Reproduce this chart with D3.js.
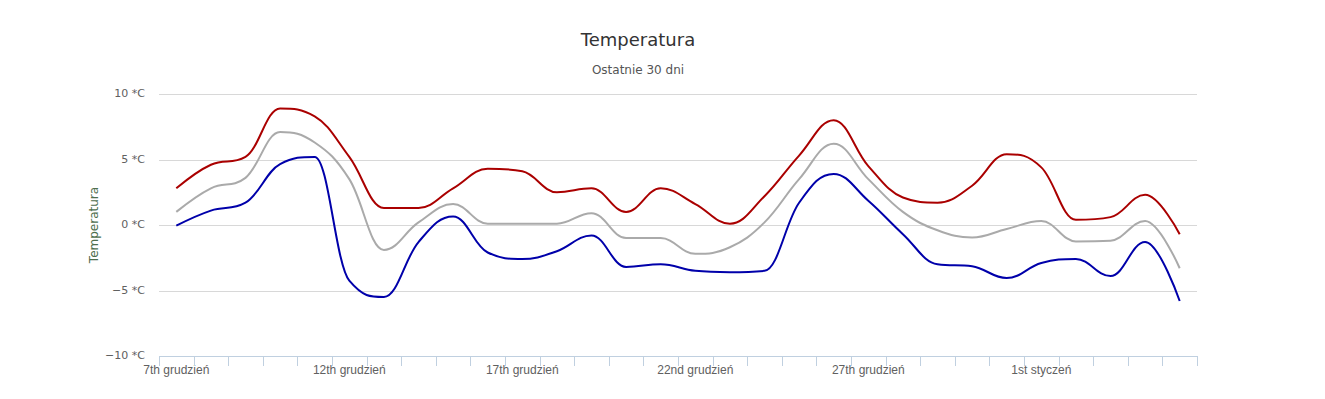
<!DOCTYPE html>
<html>
<head>
<meta charset="utf-8">
<script src="https://cdn.jsdelivr.net/npm/d3@7"></script>
<style>
  body { margin: 0; background: #fff; }
  svg { font-family: "DejaVu Sans", Verdana, sans-serif; }
  .axis text { fill: #606060; font-size: 11px; }
  .xaxis text { font-size: 12px; }
</style>
</head>
<body>
<div id="chart"></div>
<script>
// 30 days, one point per day
var days = [
  "7th grudzień", "8th grudzień", "9th grudzień", "10th grudzień", "11th grudzień",
  "12th grudzień", "13th grudzień", "14th grudzień", "15th grudzień", "16th grudzień",
  "17th grudzień", "18th grudzień", "19th grudzień", "20th grudzień", "21st grudzień",
  "22nd grudzień", "23rd grudzień", "24th grudzień", "25th grudzień", "26th grudzień",
  "27th grudzień", "28th grudzień", "29th grudzień", "30th grudzień", "31st grudzień",
  "1st styczeń", "2nd styczeń", "3rd styczeń", "4th styczeń", "5th styczeń"
];
var tempMax = [2.8, 4.6, 5.2, 8.9, 8.3, 5.2, 1.3, 1.3, 2.8, 4.3, 4.1, 2.5, 2.8, 1.0, 2.8,
  1.6, 0.1, 2.2, 5.3, 8.0, 4.5, 2.1, 1.7, 3.0, 5.4, 4.4, 0.4, 0.6, 2.3, -0.7];
var tempAvg = [1.0, 2.8, 3.6, 7.1, 6.3, 3.5, -1.9, 0.2, 1.6, 0.1, 0.1, 0.1, 0.9, -1.0, -1.0,
  -2.2, -1.7, 0.2, 3.5, 6.2, 3.5, 1.0, -0.4, -0.95, -0.3, 0.3, -1.25, -1.2, 0.3, -3.3];
var tempMin = [-0.05, 1.1, 1.7, 4.65, 5.2, -4.25, -5.5, -1.3, 0.65, -2.1, -2.6, -2.0, -0.8, -3.2, -3.0,
  -3.5, -3.6, -3.5, 1.7, 3.9, 1.85, -0.7, -3.0, -3.15, -4.05, -2.9, -2.6, -3.9, -1.3, -5.8];
var yTicks = [-10, -5, 0, 5, 10];

var width = 1325, height = 399;
var margin = {top: 94, right: 128, bottom: 43, left: 159};

// spline like the one the original chart library draws
function curveSpline(context) {
  var pts;
  return {
    areaStart: function() {}, areaEnd: function() {},
    lineStart: function() { pts = []; },
    point: function(x, y) { pts.push([x, y]); },
    lineEnd: function() {
      var n = pts.length, sm = 1.5, den = sm + 1;
      context.moveTo(pts[0][0], pts[0][1]);
      var prevR = pts[0];
      for (var i = 1; i < n; i++) {
        var p = pts[i], last = pts[i - 1], next = pts[i + 1];
        var lc = p, rc = null;
        if (next) {
          var lx = (sm * p[0] + last[0]) / den, ly = (sm * p[1] + last[1]) / den;
          var rx = (sm * p[0] + next[0]) / den, ry = (sm * p[1] + next[1]) / den;
          var corr = (ry - ly) * (rx - p[0]) / (rx - lx) + p[1] - ry;
          ly += corr; ry += corr;
          if (ly > last[1] && ly > p[1]) { ly = Math.max(last[1], p[1]); ry = 2 * p[1] - ly; }
          else if (ly < last[1] && ly < p[1]) { ly = Math.min(last[1], p[1]); ry = 2 * p[1] - ly; }
          if (ry > next[1] && ry > p[1]) { ry = Math.max(next[1], p[1]); ly = 2 * p[1] - ry; }
          else if (ry < next[1] && ry < p[1]) { ry = Math.min(next[1], p[1]); ly = 2 * p[1] - ry; }
          lc = [lx, ly]; rc = [rx, ry];
        }
        context.bezierCurveTo(prevR[0], prevR[1], lc[0], lc[1], p[0], p[1]);
        prevR = rc;
      }
    }
  };
}

var svg = d3.select('#chart').append('svg')
  .attr('width', width)
  .attr('height', height);

var x = d3.scaleBand()
  .domain(days)
  .range([margin.left, width - margin.right])
  .paddingInner(0).paddingOuter(0);

var y = d3.scaleLinear()
  .domain([-10, 10])
  .range([height - margin.bottom, margin.top]);

// title
svg.append('text')
  .attr('x', 638).attr('y', 46)
  .attr('text-anchor', 'middle')
  .style('font-size', '18px').style('fill', '#333333')
  .text('Temperatura');
svg.append('text')
  .attr('x', 638).attr('y', 74)
  .attr('text-anchor', 'middle')
  .style('font-size', '12px').style('fill', '#555555')
  .text('Ostatnie 30 dni');

// grid lines + y labels
var gy = svg.append('g').attr('class', 'axis');
gy.selectAll('line').data(yTicks).enter().append('line')
  .attr('x1', margin.left).attr('x2', width - margin.right)
  .attr('y1', function(d) { return Math.round(y(d)) + 0.5; })
  .attr('y2', function(d) { return Math.round(y(d)) + 0.5; })
  .attr('stroke', '#d8d8d8').attr('stroke-width', 1);
gy.selectAll('text').data(yTicks).enter().append('text')
  .attr('x', margin.left - 14)
  .attr('y', function(d) { return y(d) + 3; })
  .attr('text-anchor', 'end')
  .text(function(d) { return (d < 0 ? '\u2212' + (-d) : d) + ' *C'; });

// y axis title
svg.append('text')
  .attr('transform', 'translate(98,' + y(0) + ') rotate(-90)')
  .attr('text-anchor', 'middle')
  .style('font-size', '12px').style('fill', '#4d6e4d')
  .text('Temperatura');

// x axis
var gx = svg.append('g')
  .attr('class', 'axis xaxis')
  .attr('transform', 'translate(0,' + (height - margin.bottom) + ')')
  .call(d3.axisBottom(x).tickSize(0).tickPadding(9)
    .tickValues(days.filter(function(d, i) { return i % 5 === 0; })));
gx.select('.domain').remove();
gx.append('line')
  .attr('x1', margin.left).attr('x2', width - margin.right)
  .attr('y1', 0.5).attr('y2', 0.5)
  .attr('stroke', '#c0d0e0');
var edges = days.map(function(d) { return x(d); }).concat([width - margin.right]);
gx.selectAll('.tickmark').data(edges).enter().append('line')
  .attr('class', 'tickmark')
  .attr('x1', function(d) { return Math.round(d) + 0.5; })
  .attr('x2', function(d) { return Math.round(d) + 0.5; })
  .attr('y1', 0).attr('y2', 10)
  .attr('stroke', '#c0d0e0');

// series
var line = d3.line()
  .x(function(d, i) { return x(days[i]) + x.bandwidth() / 2; })
  .y(function(d) { return y(d); })
  .curve(curveSpline);

var series = [
  {values: tempMax, color: '#aa0000'},
  {values: tempAvg, color: '#aaaaaa'},
  {values: tempMin, color: '#0000aa'}
];
series.forEach(function(s) {
  svg.append('path')
    .datum(s.values)
    .attr('fill', 'none')
    .attr('stroke', s.color)
    .attr('stroke-width', 2)
    .attr('stroke-linejoin', 'round')
    .attr('d', line);
});
</script>
</body>
</html>
